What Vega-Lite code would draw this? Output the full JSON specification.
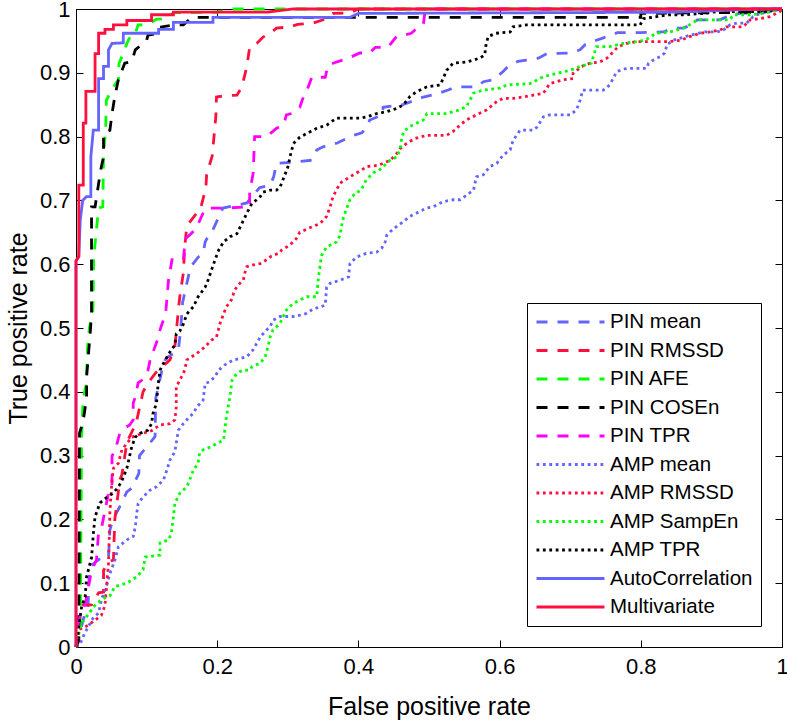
{
"$schema": "https://vega.github.io/schema/vega-lite/v6.json",
"width": 706, "height": 638,
"autosize": {"type": "none"},
"padding": {"left": 76, "top": 9, "right": 5, "bottom": 74},
"background": "white",
"config": {
  "view": {"stroke": "black", "strokeWidth": 1},
  "font": "Liberation Sans",
  "axis": {"tickSize": -7, "tickColor": "black", "domainColor": "black", "labelColor": "black", "labelFontSize": 22, "labelFont": "Liberation Sans", "titleFont": "Liberation Sans", "titleFontSize": 25, "titleFontWeight": "normal", "titleColor": "black", "grid": false, "labelFlush": false, "labelOverlap": false}
},
"datasets": {
"roc": [
{"s":"PIN mean","x":0,"y":0},{"s":"PIN mean","x":0.005,"y":0.02},{"s":"PIN mean","x":0.012,"y":0.05},{"s":"PIN mean","x":0.017,"y":0.06},{"s":"PIN mean","x":0.018,"y":0.10},{"s":"PIN mean","x":0.020,"y":0.125},{"s":"PIN mean","x":0.025,"y":0.131},{"s":"PIN mean","x":0.036,"y":0.14},{"s":"PIN mean","x":0.046,"y":0.14},{"s":"PIN mean","x":0.048,"y":0.183},{"s":"PIN mean","x":0.052,"y":0.199},{"s":"PIN mean","x":0.062,"y":0.22},{"s":"PIN mean","x":0.072,"y":0.243},{"s":"PIN mean","x":0.079,"y":0.249},{"s":"PIN mean","x":0.089,"y":0.272},{"s":"PIN mean","x":0.090,"y":0.30},{"s":"PIN mean","x":0.105,"y":0.32},{"s":"PIN mean","x":0.112,"y":0.33},{"s":"PIN mean","x":0.113,"y":0.39},{"s":"PIN mean","x":0.124,"y":0.445},{"s":"PIN mean","x":0.128,"y":0.453},{"s":"PIN mean","x":0.138,"y":0.46},{"s":"PIN mean","x":0.145,"y":0.465},{"s":"PIN mean","x":0.148,"y":0.495},{"s":"PIN mean","x":0.151,"y":0.54},{"s":"PIN mean","x":0.162,"y":0.595},{"s":"PIN mean","x":0.173,"y":0.611},{"s":"PIN mean","x":0.18,"y":0.617},{"s":"PIN mean","x":0.183,"y":0.635},{"s":"PIN mean","x":0.19,"y":0.65},{"s":"PIN mean","x":0.194,"y":0.654},{"s":"PIN mean","x":0.208,"y":0.688},{"s":"PIN mean","x":0.242,"y":0.696},{"s":"PIN mean","x":0.26,"y":0.72},{"s":"PIN mean","x":0.275,"y":0.724},{"s":"PIN mean","x":0.28,"y":0.737},{"s":"PIN mean","x":0.284,"y":0.758},{"s":"PIN mean","x":0.308,"y":0.76},{"s":"PIN mean","x":0.334,"y":0.763},{"s":"PIN mean","x":0.341,"y":0.779},{"s":"PIN mean","x":0.35,"y":0.784},{"s":"PIN mean","x":0.37,"y":0.79},{"s":"PIN mean","x":0.393,"y":0.802},{"s":"PIN mean","x":0.405,"y":0.806},{"s":"PIN mean","x":0.412,"y":0.815},{"s":"PIN mean","x":0.416,"y":0.826},{"s":"PIN mean","x":0.434,"y":0.834},{"s":"PIN mean","x":0.435,"y":0.846},{"s":"PIN mean","x":0.463,"y":0.85},{"s":"PIN mean","x":0.48,"y":0.857},{"s":"PIN mean","x":0.492,"y":0.862},{"s":"PIN mean","x":0.511,"y":0.867},{"s":"PIN mean","x":0.527,"y":0.873},{"s":"PIN mean","x":0.539,"y":0.878},{"s":"PIN mean","x":0.568,"y":0.878},{"s":"PIN mean","x":0.577,"y":0.886},{"s":"PIN mean","x":0.591,"y":0.889},{"s":"PIN mean","x":0.605,"y":0.902},{"s":"PIN mean","x":0.612,"y":0.91},{"s":"PIN mean","x":0.626,"y":0.918},{"s":"PIN mean","x":0.638,"y":0.92},{"s":"PIN mean","x":0.655,"y":0.923},{"s":"PIN mean","x":0.667,"y":0.93},{"s":"PIN mean","x":0.70,"y":0.931},{"s":"PIN mean","x":0.714,"y":0.936},{"s":"PIN mean","x":0.721,"y":0.944},{"s":"PIN mean","x":0.737,"y":0.951},{"s":"PIN mean","x":0.745,"y":0.954},{"s":"PIN mean","x":0.767,"y":0.963},{"s":"PIN mean","x":0.80,"y":0.963},{"s":"PIN mean","x":0.832,"y":0.964},{"s":"PIN mean","x":0.846,"y":0.97},{"s":"PIN mean","x":0.86,"y":0.97},{"s":"PIN mean","x":0.874,"y":0.976},{"s":"PIN mean","x":0.88,"y":0.983},{"s":"PIN mean","x":0.912,"y":0.983},{"s":"PIN mean","x":0.926,"y":0.99},{"s":"PIN mean","x":0.94,"y":0.993},{"s":"PIN mean","x":0.973,"y":0.995},{"s":"PIN mean","x":1,"y":1},
{"s":"PIN RMSSD","x":0,"y":0},{"s":"PIN RMSSD","x":0.002,"y":0.02},{"s":"PIN RMSSD","x":0.003,"y":0.05},{"s":"PIN RMSSD","x":0.010,"y":0.066},{"s":"PIN RMSSD","x":0.022,"y":0.066},{"s":"PIN RMSSD","x":0.032,"y":0.085},{"s":"PIN RMSSD","x":0.039,"y":0.086},{"s":"PIN RMSSD","x":0.039,"y":0.12},{"s":"PIN RMSSD","x":0.046,"y":0.134},{"s":"PIN RMSSD","x":0.053,"y":0.136},{"s":"PIN RMSSD","x":0.055,"y":0.20},{"s":"PIN RMSSD","x":0.058,"y":0.226},{"s":"PIN RMSSD","x":0.062,"y":0.262},{"s":"PIN RMSSD","x":0.065,"y":0.27},{"s":"PIN RMSSD","x":0.072,"y":0.32},{"s":"PIN RMSSD","x":0.076,"y":0.33},{"s":"PIN RMSSD","x":0.085,"y":0.35},{"s":"PIN RMSSD","x":0.095,"y":0.40},{"s":"PIN RMSSD","x":0.102,"y":0.414},{"s":"PIN RMSSD","x":0.113,"y":0.43},{"s":"PIN RMSSD","x":0.128,"y":0.445},{"s":"PIN RMSSD","x":0.133,"y":0.45},{"s":"PIN RMSSD","x":0.140,"y":0.47},{"s":"PIN RMSSD","x":0.145,"y":0.528},{"s":"PIN RMSSD","x":0.147,"y":0.549},{"s":"PIN RMSSD","x":0.152,"y":0.586},{"s":"PIN RMSSD","x":0.154,"y":0.627},{"s":"PIN RMSSD","x":0.157,"y":0.66},{"s":"PIN RMSSD","x":0.171,"y":0.68},{"s":"PIN RMSSD","x":0.176,"y":0.685},{"s":"PIN RMSSD","x":0.184,"y":0.72},{"s":"PIN RMSSD","x":0.185,"y":0.74},{"s":"PIN RMSSD","x":0.193,"y":0.77},{"s":"PIN RMSSD","x":0.195,"y":0.795},{"s":"PIN RMSSD","x":0.198,"y":0.83},{"s":"PIN RMSSD","x":0.199,"y":0.862},{"s":"PIN RMSSD","x":0.209,"y":0.864},{"s":"PIN RMSSD","x":0.228,"y":0.865},{"s":"PIN RMSSD","x":0.235,"y":0.878},{"s":"PIN RMSSD","x":0.242,"y":0.91},{"s":"PIN RMSSD","x":0.246,"y":0.94},{"s":"PIN RMSSD","x":0.256,"y":0.946},{"s":"PIN RMSSD","x":0.265,"y":0.956},{"s":"PIN RMSSD","x":0.275,"y":0.962},{"s":"PIN RMSSD","x":0.284,"y":0.970},{"s":"PIN RMSSD","x":0.303,"y":0.972},{"s":"PIN RMSSD","x":0.314,"y":0.976},{"s":"PIN RMSSD","x":0.336,"y":0.978},{"s":"PIN RMSSD","x":0.35,"y":0.983},{"s":"PIN RMSSD","x":0.364,"y":0.993},{"s":"PIN RMSSD","x":0.388,"y":0.994},{"s":"PIN RMSSD","x":0.40,"y":1},{"s":"PIN RMSSD","x":1,"y":1},
{"s":"PIN AFE","x":0,"y":0},{"s":"PIN AFE","x":0.006,"y":0.03},{"s":"PIN AFE","x":0.008,"y":0.33},{"s":"PIN AFE","x":0.010,"y":0.387},{"s":"PIN AFE","x":0.014,"y":0.41},{"s":"PIN AFE","x":0.015,"y":0.43},{"s":"PIN AFE","x":0.017,"y":0.48},{"s":"PIN AFE","x":0.019,"y":0.50},{"s":"PIN AFE","x":0.024,"y":0.528},{"s":"PIN AFE","x":0.025,"y":0.61},{"s":"PIN AFE","x":0.032,"y":0.688},{"s":"PIN AFE","x":0.038,"y":0.69},{"s":"PIN AFE","x":0.039,"y":0.774},{"s":"PIN AFE","x":0.042,"y":0.81},{"s":"PIN AFE","x":0.043,"y":0.857},{"s":"PIN AFE","x":0.053,"y":0.878},{"s":"PIN AFE","x":0.060,"y":0.889},{"s":"PIN AFE","x":0.061,"y":0.915},{"s":"PIN AFE","x":0.069,"y":0.936},{"s":"PIN AFE","x":0.072,"y":0.946},{"s":"PIN AFE","x":0.079,"y":0.962},{"s":"PIN AFE","x":0.084,"y":0.962},{"s":"PIN AFE","x":0.088,"y":0.975},{"s":"PIN AFE","x":0.100,"y":0.975},{"s":"PIN AFE","x":0.114,"y":0.984},{"s":"PIN AFE","x":0.124,"y":0.984},{"s":"PIN AFE","x":0.138,"y":0.994},{"s":"PIN AFE","x":0.2,"y":0.995},{"s":"PIN AFE","x":0.22,"y":1},{"s":"PIN AFE","x":1,"y":1},
{"s":"PIN COSEn","x":0,"y":0},{"s":"PIN COSEn","x":0.004,"y":0.01},{"s":"PIN COSEn","x":0.005,"y":0.335},{"s":"PIN COSEn","x":0.010,"y":0.353},{"s":"PIN COSEn","x":0.015,"y":0.39},{"s":"PIN COSEn","x":0.015,"y":0.423},{"s":"PIN COSEn","x":0.017,"y":0.45},{"s":"PIN COSEn","x":0.020,"y":0.49},{"s":"PIN COSEn","x":0.022,"y":0.523},{"s":"PIN COSEn","x":0.022,"y":0.690},{"s":"PIN COSEn","x":0.027,"y":0.690},{"s":"PIN COSEn","x":0.035,"y":0.748},{"s":"PIN COSEn","x":0.039,"y":0.768},{"s":"PIN COSEn","x":0.039,"y":0.805},{"s":"PIN COSEn","x":0.048,"y":0.810},{"s":"PIN COSEn","x":0.051,"y":0.836},{"s":"PIN COSEn","x":0.055,"y":0.863},{"s":"PIN COSEn","x":0.060,"y":0.889},{"s":"PIN COSEn","x":0.069,"y":0.915},{"s":"PIN COSEn","x":0.079,"y":0.918},{"s":"PIN COSEn","x":0.084,"y":0.936},{"s":"PIN COSEn","x":0.100,"y":0.951},{"s":"PIN COSEn","x":0.102,"y":0.959},{"s":"PIN COSEn","x":0.119,"y":0.962},{"s":"PIN COSEn","x":0.121,"y":0.972},{"s":"PIN COSEn","x":0.138,"y":0.975},{"s":"PIN COSEn","x":0.152,"y":0.975},{"s":"PIN COSEn","x":0.164,"y":0.987},{"s":"PIN COSEn","x":0.80,"y":0.987},{"s":"PIN COSEn","x":0.80,"y":0.993},{"s":"PIN COSEn","x":0.97,"y":0.995},{"s":"PIN COSEn","x":1,"y":1},
{"s":"PIN TPR","x":0,"y":0},{"s":"PIN TPR","x":0.002,"y":0.03},{"s":"PIN TPR","x":0.008,"y":0.06},{"s":"PIN TPR","x":0.013,"y":0.066},{"s":"PIN TPR","x":0.022,"y":0.12},{"s":"PIN TPR","x":0.029,"y":0.136},{"s":"PIN TPR","x":0.032,"y":0.18},{"s":"PIN TPR","x":0.036,"y":0.186},{"s":"PIN TPR","x":0.046,"y":0.241},{"s":"PIN TPR","x":0.051,"y":0.25},{"s":"PIN TPR","x":0.051,"y":0.30},{"s":"PIN TPR","x":0.055,"y":0.306},{"s":"PIN TPR","x":0.062,"y":0.335},{"s":"PIN TPR","x":0.065,"y":0.34},{"s":"PIN TPR","x":0.076,"y":0.348},{"s":"PIN TPR","x":0.081,"y":0.356},{"s":"PIN TPR","x":0.081,"y":0.382},{"s":"PIN TPR","x":0.084,"y":0.392},{"s":"PIN TPR","x":0.088,"y":0.414},{"s":"PIN TPR","x":0.093,"y":0.418},{"s":"PIN TPR","x":0.102,"y":0.434},{"s":"PIN TPR","x":0.105,"y":0.45},{"s":"PIN TPR","x":0.117,"y":0.486},{"s":"PIN TPR","x":0.119,"y":0.497},{"s":"PIN TPR","x":0.127,"y":0.523},{"s":"PIN TPR","x":0.131,"y":0.575},{"s":"PIN TPR","x":0.136,"y":0.607},{"s":"PIN TPR","x":0.152,"y":0.607},{"s":"PIN TPR","x":0.155,"y":0.64},{"s":"PIN TPR","x":0.164,"y":0.649},{"s":"PIN TPR","x":0.171,"y":0.658},{"s":"PIN TPR","x":0.180,"y":0.68},{"s":"PIN TPR","x":0.185,"y":0.688},{"s":"PIN TPR","x":0.213,"y":0.688},{"s":"PIN TPR","x":0.246,"y":0.69},{"s":"PIN TPR","x":0.246,"y":0.712},{"s":"PIN TPR","x":0.251,"y":0.743},{"s":"PIN TPR","x":0.253,"y":0.80},{"s":"PIN TPR","x":0.27,"y":0.80},{"s":"PIN TPR","x":0.284,"y":0.813},{"s":"PIN TPR","x":0.294,"y":0.818},{"s":"PIN TPR","x":0.298,"y":0.834},{"s":"PIN TPR","x":0.308,"y":0.837},{"s":"PIN TPR","x":0.317,"y":0.846},{"s":"PIN TPR","x":0.322,"y":0.862},{"s":"PIN TPR","x":0.329,"y":0.878},{"s":"PIN TPR","x":0.334,"y":0.893},{"s":"PIN TPR","x":0.353,"y":0.893},{"s":"PIN TPR","x":0.357,"y":0.912},{"s":"PIN TPR","x":0.364,"y":0.915},{"s":"PIN TPR","x":0.378,"y":0.92},{"s":"PIN TPR","x":0.39,"y":0.925},{"s":"PIN TPR","x":0.402,"y":0.931},{"s":"PIN TPR","x":0.416,"y":0.931},{"s":"PIN TPR","x":0.424,"y":0.94},{"s":"PIN TPR","x":0.442,"y":0.94},{"s":"PIN TPR","x":0.454,"y":0.957},{"s":"PIN TPR","x":0.459,"y":0.957},{"s":"PIN TPR","x":0.475,"y":0.962},{"s":"PIN TPR","x":0.48,"y":0.967},{"s":"PIN TPR","x":0.492,"y":0.976},{"s":"PIN TPR","x":0.494,"y":0.993},{"s":"PIN TPR","x":0.50,"y":1},{"s":"PIN TPR","x":1,"y":1},
{"s":"AMP mean","x":0,"y":0},{"s":"AMP mean","x":0.006,"y":0.005},{"s":"AMP mean","x":0.010,"y":0.016},{"s":"AMP mean","x":0.015,"y":0.027},{"s":"AMP mean","x":0.020,"y":0.037},{"s":"AMP mean","x":0.025,"y":0.047},{"s":"AMP mean","x":0.032,"y":0.053},{"s":"AMP mean","x":0.036,"y":0.074},{"s":"AMP mean","x":0.043,"y":0.095},{"s":"AMP mean","x":0.048,"y":0.115},{"s":"AMP mean","x":0.055,"y":0.136},{"s":"AMP mean","x":0.060,"y":0.157},{"s":"AMP mean","x":0.072,"y":0.168},{"s":"AMP mean","x":0.081,"y":0.173},{"s":"AMP mean","x":0.084,"y":0.188},{"s":"AMP mean","x":0.086,"y":0.209},{"s":"AMP mean","x":0.088,"y":0.225},{"s":"AMP mean","x":0.095,"y":0.235},{"s":"AMP mean","x":0.105,"y":0.246},{"s":"AMP mean","x":0.114,"y":0.251},{"s":"AMP mean","x":0.124,"y":0.262},{"s":"AMP mean","x":0.128,"y":0.275},{"s":"AMP mean","x":0.133,"y":0.293},{"s":"AMP mean","x":0.140,"y":0.306},{"s":"AMP mean","x":0.145,"y":0.340},{"s":"AMP mean","x":0.152,"y":0.350},{"s":"AMP mean","x":0.161,"y":0.361},{"s":"AMP mean","x":0.166,"y":0.366},{"s":"AMP mean","x":0.171,"y":0.376},{"s":"AMP mean","x":0.180,"y":0.387},{"s":"AMP mean","x":0.183,"y":0.413},{"s":"AMP mean","x":0.190,"y":0.416},{"s":"AMP mean","x":0.197,"y":0.424},{"s":"AMP mean","x":0.202,"y":0.434},{"s":"AMP mean","x":0.213,"y":0.444},{"s":"AMP mean","x":0.223,"y":0.450},{"s":"AMP mean","x":0.232,"y":0.452},{"s":"AMP mean","x":0.242,"y":0.455},{"s":"AMP mean","x":0.251,"y":0.466},{"s":"AMP mean","x":0.256,"y":0.476},{"s":"AMP mean","x":0.261,"y":0.486},{"s":"AMP mean","x":0.270,"y":0.497},{"s":"AMP mean","x":0.275,"y":0.502},{"s":"AMP mean","x":0.279,"y":0.512},{"s":"AMP mean","x":0.289,"y":0.518},{"s":"AMP mean","x":0.308,"y":0.518},{"s":"AMP mean","x":0.317,"y":0.520},{"s":"AMP mean","x":0.327,"y":0.523},{"s":"AMP mean","x":0.336,"y":0.530},{"s":"AMP mean","x":0.346,"y":0.533},{"s":"AMP mean","x":0.353,"y":0.536},{"s":"AMP mean","x":0.355,"y":0.564},{"s":"AMP mean","x":0.360,"y":0.570},{"s":"AMP mean","x":0.374,"y":0.575},{"s":"AMP mean","x":0.386,"y":0.580},{"s":"AMP mean","x":0.388,"y":0.601},{"s":"AMP mean","x":0.397,"y":0.611},{"s":"AMP mean","x":0.411,"y":0.617},{"s":"AMP mean","x":0.426,"y":0.619},{"s":"AMP mean","x":0.433,"y":0.625},{"s":"AMP mean","x":0.438,"y":0.635},{"s":"AMP mean","x":0.440,"y":0.645},{"s":"AMP mean","x":0.445,"y":0.651},{"s":"AMP mean","x":0.454,"y":0.659},{"s":"AMP mean","x":0.464,"y":0.667},{"s":"AMP mean","x":0.473,"y":0.675},{"s":"AMP mean","x":0.482,"y":0.680},{"s":"AMP mean","x":0.497,"y":0.688},{"s":"AMP mean","x":0.506,"y":0.690},{"s":"AMP mean","x":0.520,"y":0.698},{"s":"AMP mean","x":0.534,"y":0.701},{"s":"AMP mean","x":0.544,"y":0.701},{"s":"AMP mean","x":0.553,"y":0.708},{"s":"AMP mean","x":0.563,"y":0.716},{"s":"AMP mean","x":0.567,"y":0.737},{"s":"AMP mean","x":0.577,"y":0.740},{"s":"AMP mean","x":0.586,"y":0.753},{"s":"AMP mean","x":0.596,"y":0.758},{"s":"AMP mean","x":0.605,"y":0.771},{"s":"AMP mean","x":0.615,"y":0.779},{"s":"AMP mean","x":0.619,"y":0.794},{"s":"AMP mean","x":0.629,"y":0.810},{"s":"AMP mean","x":0.648,"y":0.810},{"s":"AMP mean","x":0.653,"y":0.815},{"s":"AMP mean","x":0.662,"y":0.831},{"s":"AMP mean","x":0.671,"y":0.834},{"s":"AMP mean","x":0.700,"y":0.834},{"s":"AMP mean","x":0.709,"y":0.842},{"s":"AMP mean","x":0.714,"y":0.857},{"s":"AMP mean","x":0.718,"y":0.873},{"s":"AMP mean","x":0.747,"y":0.873},{"s":"AMP mean","x":0.756,"y":0.881},{"s":"AMP mean","x":0.766,"y":0.902},{"s":"AMP mean","x":0.780,"y":0.907},{"s":"AMP mean","x":0.808,"y":0.907},{"s":"AMP mean","x":0.811,"y":0.915},{"s":"AMP mean","x":0.818,"y":0.920},{"s":"AMP mean","x":0.827,"y":0.925},{"s":"AMP mean","x":0.834,"y":0.931},{"s":"AMP mean","x":0.837,"y":0.944},{"s":"AMP mean","x":0.846,"y":0.951},{"s":"AMP mean","x":0.870,"y":0.959},{"s":"AMP mean","x":0.889,"y":0.964},{"s":"AMP mean","x":0.908,"y":0.964},{"s":"AMP mean","x":0.917,"y":0.967},{"s":"AMP mean","x":0.926,"y":0.975},{"s":"AMP mean","x":0.936,"y":0.978},{"s":"AMP mean","x":0.950,"y":0.978},{"s":"AMP mean","x":0.959,"y":0.988},{"s":"AMP mean","x":0.969,"y":0.993},{"s":"AMP mean","x":0.983,"y":0.996},{"s":"AMP mean","x":1,"y":1},
{"s":"AMP RMSSD","x":0,"y":0},{"s":"AMP RMSSD","x":0.003,"y":0.006},{"s":"AMP RMSSD","x":0.003,"y":0.027},{"s":"AMP RMSSD","x":0.010,"y":0.030},{"s":"AMP RMSSD","x":0.017,"y":0.034},{"s":"AMP RMSSD","x":0.027,"y":0.042},{"s":"AMP RMSSD","x":0.036,"y":0.050},{"s":"AMP RMSSD","x":0.041,"y":0.065},{"s":"AMP RMSSD","x":0.043,"y":0.09},{"s":"AMP RMSSD","x":0.046,"y":0.13},{"s":"AMP RMSSD","x":0.047,"y":0.168},{"s":"AMP RMSSD","x":0.048,"y":0.212},{"s":"AMP RMSSD","x":0.051,"y":0.262},{"s":"AMP RMSSD","x":0.053,"y":0.28},{"s":"AMP RMSSD","x":0.060,"y":0.288},{"s":"AMP RMSSD","x":0.065,"y":0.309},{"s":"AMP RMSSD","x":0.072,"y":0.319},{"s":"AMP RMSSD","x":0.079,"y":0.329},{"s":"AMP RMSSD","x":0.095,"y":0.335},{"s":"AMP RMSSD","x":0.107,"y":0.339},{"s":"AMP RMSSD","x":0.119,"y":0.348},{"s":"AMP RMSSD","x":0.133,"y":0.350},{"s":"AMP RMSSD","x":0.140,"y":0.356},{"s":"AMP RMSSD","x":0.142,"y":0.376},{"s":"AMP RMSSD","x":0.142,"y":0.408},{"s":"AMP RMSSD","x":0.147,"y":0.418},{"s":"AMP RMSSD","x":0.154,"y":0.434},{"s":"AMP RMSSD","x":0.157,"y":0.450},{"s":"AMP RMSSD","x":0.164,"y":0.455},{"s":"AMP RMSSD","x":0.171,"y":0.460},{"s":"AMP RMSSD","x":0.180,"y":0.468},{"s":"AMP RMSSD","x":0.192,"y":0.481},{"s":"AMP RMSSD","x":0.199,"y":0.486},{"s":"AMP RMSSD","x":0.204,"y":0.507},{"s":"AMP RMSSD","x":0.209,"y":0.522},{"s":"AMP RMSSD","x":0.213,"y":0.533},{"s":"AMP RMSSD","x":0.220,"y":0.544},{"s":"AMP RMSSD","x":0.225,"y":0.560},{"s":"AMP RMSSD","x":0.232,"y":0.570},{"s":"AMP RMSSD","x":0.237,"y":0.575},{"s":"AMP RMSSD","x":0.239,"y":0.586},{"s":"AMP RMSSD","x":0.242,"y":0.596},{"s":"AMP RMSSD","x":0.251,"y":0.599},{"s":"AMP RMSSD","x":0.261,"y":0.601},{"s":"AMP RMSSD","x":0.270,"y":0.607},{"s":"AMP RMSSD","x":0.277,"y":0.613},{"s":"AMP RMSSD","x":0.289,"y":0.618},{"s":"AMP RMSSD","x":0.291,"y":0.622},{"s":"AMP RMSSD","x":0.303,"y":0.630},{"s":"AMP RMSSD","x":0.312,"y":0.640},{"s":"AMP RMSSD","x":0.317,"y":0.650},{"s":"AMP RMSSD","x":0.331,"y":0.657},{"s":"AMP RMSSD","x":0.346,"y":0.664},{"s":"AMP RMSSD","x":0.355,"y":0.675},{"s":"AMP RMSSD","x":0.360,"y":0.690},{"s":"AMP RMSSD","x":0.364,"y":0.706},{"s":"AMP RMSSD","x":0.374,"y":0.727},{"s":"AMP RMSSD","x":0.388,"y":0.737},{"s":"AMP RMSSD","x":0.405,"y":0.748},{"s":"AMP RMSSD","x":0.412,"y":0.753},{"s":"AMP RMSSD","x":0.428,"y":0.755},{"s":"AMP RMSSD","x":0.435,"y":0.758},{"s":"AMP RMSSD","x":0.445,"y":0.763},{"s":"AMP RMSSD","x":0.454,"y":0.773},{"s":"AMP RMSSD","x":0.459,"y":0.781},{"s":"AMP RMSSD","x":0.468,"y":0.789},{"s":"AMP RMSSD","x":0.480,"y":0.797},{"s":"AMP RMSSD","x":0.497,"y":0.802},{"s":"AMP RMSSD","x":0.525,"y":0.802},{"s":"AMP RMSSD","x":0.534,"y":0.808},{"s":"AMP RMSSD","x":0.544,"y":0.818},{"s":"AMP RMSSD","x":0.553,"y":0.826},{"s":"AMP RMSSD","x":0.567,"y":0.834},{"s":"AMP RMSSD","x":0.582,"y":0.842},{"s":"AMP RMSSD","x":0.596,"y":0.855},{"s":"AMP RMSSD","x":0.605,"y":0.860},{"s":"AMP RMSSD","x":0.619,"y":0.860},{"s":"AMP RMSSD","x":0.633,"y":0.862},{"s":"AMP RMSSD","x":0.643,"y":0.864},{"s":"AMP RMSSD","x":0.662,"y":0.868},{"s":"AMP RMSSD","x":0.671,"y":0.883},{"s":"AMP RMSSD","x":0.690,"y":0.889},{"s":"AMP RMSSD","x":0.704,"y":0.891},{"s":"AMP RMSSD","x":0.704,"y":0.899},{"s":"AMP RMSSD","x":0.716,"y":0.910},{"s":"AMP RMSSD","x":0.728,"y":0.915},{"s":"AMP RMSSD","x":0.742,"y":0.917},{"s":"AMP RMSSD","x":0.752,"y":0.923},{"s":"AMP RMSSD","x":0.761,"y":0.933},{"s":"AMP RMSSD","x":0.768,"y":0.941},{"s":"AMP RMSSD","x":0.780,"y":0.946},{"s":"AMP RMSSD","x":0.794,"y":0.949},{"s":"AMP RMSSD","x":0.841,"y":0.949},{"s":"AMP RMSSD","x":0.856,"y":0.951},{"s":"AMP RMSSD","x":0.870,"y":0.957},{"s":"AMP RMSSD","x":0.884,"y":0.962},{"s":"AMP RMSSD","x":0.898,"y":0.964},{"s":"AMP RMSSD","x":0.912,"y":0.967},{"s":"AMP RMSSD","x":0.921,"y":0.972},{"s":"AMP RMSSD","x":0.945,"y":0.972},{"s":"AMP RMSSD","x":0.955,"y":0.983},{"s":"AMP RMSSD","x":0.969,"y":0.985},{"s":"AMP RMSSD","x":0.983,"y":0.988},{"s":"AMP RMSSD","x":0.997,"y":0.996},{"s":"AMP RMSSD","x":1,"y":1},
{"s":"AMP SampEn","x":0,"y":0},{"s":"AMP SampEn","x":0.003,"y":0.016},{"s":"AMP SampEn","x":0.006,"y":0.032},{"s":"AMP SampEn","x":0.010,"y":0.040},{"s":"AMP SampEn","x":0.020,"y":0.055},{"s":"AMP SampEn","x":0.025,"y":0.063},{"s":"AMP SampEn","x":0.029,"y":0.068},{"s":"AMP SampEn","x":0.039,"y":0.076},{"s":"AMP SampEn","x":0.048,"y":0.080},{"s":"AMP SampEn","x":0.055,"y":0.095},{"s":"AMP SampEn","x":0.072,"y":0.100},{"s":"AMP SampEn","x":0.086,"y":0.110},{"s":"AMP SampEn","x":0.095,"y":0.121},{"s":"AMP SampEn","x":0.098,"y":0.141},{"s":"AMP SampEn","x":0.119,"y":0.144},{"s":"AMP SampEn","x":0.119,"y":0.163},{"s":"AMP SampEn","x":0.131,"y":0.168},{"s":"AMP SampEn","x":0.135,"y":0.178},{"s":"AMP SampEn","x":0.138,"y":0.204},{"s":"AMP SampEn","x":0.140,"y":0.225},{"s":"AMP SampEn","x":0.147,"y":0.241},{"s":"AMP SampEn","x":0.157,"y":0.251},{"s":"AMP SampEn","x":0.161,"y":0.262},{"s":"AMP SampEn","x":0.166,"y":0.277},{"s":"AMP SampEn","x":0.173,"y":0.288},{"s":"AMP SampEn","x":0.175,"y":0.304},{"s":"AMP SampEn","x":0.180,"y":0.309},{"s":"AMP SampEn","x":0.192,"y":0.314},{"s":"AMP SampEn","x":0.199,"y":0.319},{"s":"AMP SampEn","x":0.209,"y":0.324},{"s":"AMP SampEn","x":0.213,"y":0.361},{"s":"AMP SampEn","x":0.218,"y":0.392},{"s":"AMP SampEn","x":0.221,"y":0.418},{"s":"AMP SampEn","x":0.228,"y":0.429},{"s":"AMP SampEn","x":0.237,"y":0.434},{"s":"AMP SampEn","x":0.246,"y":0.434},{"s":"AMP SampEn","x":0.249,"y":0.439},{"s":"AMP SampEn","x":0.261,"y":0.445},{"s":"AMP SampEn","x":0.268,"y":0.455},{"s":"AMP SampEn","x":0.272,"y":0.471},{"s":"AMP SampEn","x":0.275,"y":0.486},{"s":"AMP SampEn","x":0.279,"y":0.497},{"s":"AMP SampEn","x":0.284,"y":0.502},{"s":"AMP SampEn","x":0.289,"y":0.507},{"s":"AMP SampEn","x":0.293,"y":0.517},{"s":"AMP SampEn","x":0.298,"y":0.528},{"s":"AMP SampEn","x":0.307,"y":0.538},{"s":"AMP SampEn","x":0.317,"y":0.544},{"s":"AMP SampEn","x":0.327,"y":0.549},{"s":"AMP SampEn","x":0.341,"y":0.549},{"s":"AMP SampEn","x":0.343,"y":0.575},{"s":"AMP SampEn","x":0.346,"y":0.601},{"s":"AMP SampEn","x":0.348,"y":0.614},{"s":"AMP SampEn","x":0.355,"y":0.627},{"s":"AMP SampEn","x":0.369,"y":0.635},{"s":"AMP SampEn","x":0.374,"y":0.645},{"s":"AMP SampEn","x":0.376,"y":0.659},{"s":"AMP SampEn","x":0.379,"y":0.674},{"s":"AMP SampEn","x":0.388,"y":0.701},{"s":"AMP SampEn","x":0.395,"y":0.711},{"s":"AMP SampEn","x":0.404,"y":0.716},{"s":"AMP SampEn","x":0.411,"y":0.732},{"s":"AMP SampEn","x":0.421,"y":0.743},{"s":"AMP SampEn","x":0.430,"y":0.748},{"s":"AMP SampEn","x":0.435,"y":0.753},{"s":"AMP SampEn","x":0.445,"y":0.763},{"s":"AMP SampEn","x":0.454,"y":0.768},{"s":"AMP SampEn","x":0.459,"y":0.779},{"s":"AMP SampEn","x":0.461,"y":0.795},{"s":"AMP SampEn","x":0.464,"y":0.808},{"s":"AMP SampEn","x":0.473,"y":0.816},{"s":"AMP SampEn","x":0.482,"y":0.821},{"s":"AMP SampEn","x":0.492,"y":0.826},{"s":"AMP SampEn","x":0.497,"y":0.836},{"s":"AMP SampEn","x":0.525,"y":0.836},{"s":"AMP SampEn","x":0.544,"y":0.842},{"s":"AMP SampEn","x":0.553,"y":0.847},{"s":"AMP SampEn","x":0.558,"y":0.857},{"s":"AMP SampEn","x":0.563,"y":0.868},{"s":"AMP SampEn","x":0.577,"y":0.873},{"s":"AMP SampEn","x":0.601,"y":0.876},{"s":"AMP SampEn","x":0.610,"y":0.881},{"s":"AMP SampEn","x":0.643,"y":0.883},{"s":"AMP SampEn","x":0.662,"y":0.894},{"s":"AMP SampEn","x":0.681,"y":0.899},{"s":"AMP SampEn","x":0.700,"y":0.904},{"s":"AMP SampEn","x":0.714,"y":0.910},{"s":"AMP SampEn","x":0.730,"y":0.915},{"s":"AMP SampEn","x":0.737,"y":0.941},{"s":"AMP SampEn","x":0.756,"y":0.941},{"s":"AMP SampEn","x":0.775,"y":0.946},{"s":"AMP SampEn","x":0.794,"y":0.949},{"s":"AMP SampEn","x":0.806,"y":0.951},{"s":"AMP SampEn","x":0.822,"y":0.962},{"s":"AMP SampEn","x":0.841,"y":0.964},{"s":"AMP SampEn","x":0.860,"y":0.970},{"s":"AMP SampEn","x":0.874,"y":0.978},{"s":"AMP SampEn","x":0.879,"y":0.983},{"s":"AMP SampEn","x":0.926,"y":0.983},{"s":"AMP SampEn","x":0.931,"y":0.991},{"s":"AMP SampEn","x":0.955,"y":0.991},{"s":"AMP SampEn","x":0.973,"y":0.993},{"s":"AMP SampEn","x":0.992,"y":0.998},{"s":"AMP SampEn","x":1,"y":1},
{"s":"AMP TPR","x":0,"y":0},{"s":"AMP TPR","x":0.003,"y":0.006},{"s":"AMP TPR","x":0.003,"y":0.027},{"s":"AMP TPR","x":0.008,"y":0.063},{"s":"AMP TPR","x":0.013,"y":0.079},{"s":"AMP TPR","x":0.015,"y":0.11},{"s":"AMP TPR","x":0.022,"y":0.14},{"s":"AMP TPR","x":0.025,"y":0.183},{"s":"AMP TPR","x":0.027,"y":0.204},{"s":"AMP TPR","x":0.034,"y":0.226},{"s":"AMP TPR","x":0.043,"y":0.234},{"s":"AMP TPR","x":0.051,"y":0.24},{"s":"AMP TPR","x":0.058,"y":0.248},{"s":"AMP TPR","x":0.064,"y":0.258},{"s":"AMP TPR","x":0.072,"y":0.28},{"s":"AMP TPR","x":0.079,"y":0.314},{"s":"AMP TPR","x":0.084,"y":0.329},{"s":"AMP TPR","x":0.091,"y":0.335},{"s":"AMP TPR","x":0.102,"y":0.340},{"s":"AMP TPR","x":0.107,"y":0.350},{"s":"AMP TPR","x":0.109,"y":0.366},{"s":"AMP TPR","x":0.114,"y":0.382},{"s":"AMP TPR","x":0.116,"y":0.408},{"s":"AMP TPR","x":0.119,"y":0.434},{"s":"AMP TPR","x":0.124,"y":0.445},{"s":"AMP TPR","x":0.135,"y":0.466},{"s":"AMP TPR","x":0.140,"y":0.473},{"s":"AMP TPR","x":0.142,"y":0.491},{"s":"AMP TPR","x":0.147,"y":0.495},{"s":"AMP TPR","x":0.152,"y":0.506},{"s":"AMP TPR","x":0.157,"y":0.522},{"s":"AMP TPR","x":0.161,"y":0.527},{"s":"AMP TPR","x":0.166,"y":0.533},{"s":"AMP TPR","x":0.173,"y":0.549},{"s":"AMP TPR","x":0.183,"y":0.564},{"s":"AMP TPR","x":0.187,"y":0.575},{"s":"AMP TPR","x":0.192,"y":0.591},{"s":"AMP TPR","x":0.197,"y":0.607},{"s":"AMP TPR","x":0.202,"y":0.622},{"s":"AMP TPR","x":0.209,"y":0.635},{"s":"AMP TPR","x":0.218,"y":0.643},{"s":"AMP TPR","x":0.228,"y":0.648},{"s":"AMP TPR","x":0.235,"y":0.664},{"s":"AMP TPR","x":0.242,"y":0.680},{"s":"AMP TPR","x":0.249,"y":0.695},{"s":"AMP TPR","x":0.256,"y":0.701},{"s":"AMP TPR","x":0.261,"y":0.706},{"s":"AMP TPR","x":0.265,"y":0.713},{"s":"AMP TPR","x":0.275,"y":0.716},{"s":"AMP TPR","x":0.284,"y":0.716},{"s":"AMP TPR","x":0.289,"y":0.721},{"s":"AMP TPR","x":0.293,"y":0.732},{"s":"AMP TPR","x":0.300,"y":0.752},{"s":"AMP TPR","x":0.303,"y":0.768},{"s":"AMP TPR","x":0.308,"y":0.789},{"s":"AMP TPR","x":0.317,"y":0.799},{"s":"AMP TPR","x":0.327,"y":0.805},{"s":"AMP TPR","x":0.341,"y":0.813},{"s":"AMP TPR","x":0.355,"y":0.818},{"s":"AMP TPR","x":0.369,"y":0.829},{"s":"AMP TPR","x":0.402,"y":0.829},{"s":"AMP TPR","x":0.412,"y":0.831},{"s":"AMP TPR","x":0.426,"y":0.836},{"s":"AMP TPR","x":0.440,"y":0.839},{"s":"AMP TPR","x":0.454,"y":0.844},{"s":"AMP TPR","x":0.464,"y":0.850},{"s":"AMP TPR","x":0.473,"y":0.863},{"s":"AMP TPR","x":0.482,"y":0.870},{"s":"AMP TPR","x":0.497,"y":0.878},{"s":"AMP TPR","x":0.516,"y":0.881},{"s":"AMP TPR","x":0.520,"y":0.891},{"s":"AMP TPR","x":0.525,"y":0.904},{"s":"AMP TPR","x":0.534,"y":0.915},{"s":"AMP TPR","x":0.553,"y":0.917},{"s":"AMP TPR","x":0.572,"y":0.923},{"s":"AMP TPR","x":0.579,"y":0.928},{"s":"AMP TPR","x":0.581,"y":0.946},{"s":"AMP TPR","x":0.584,"y":0.957},{"s":"AMP TPR","x":0.595,"y":0.962},{"s":"AMP TPR","x":0.615,"y":0.964},{"s":"AMP TPR","x":0.619,"y":0.972},{"s":"AMP TPR","x":0.638,"y":0.975},{"s":"AMP TPR","x":0.799,"y":0.975},{"s":"AMP TPR","x":0.804,"y":0.985},{"s":"AMP TPR","x":0.822,"y":0.988},{"s":"AMP TPR","x":0.841,"y":0.991},{"s":"AMP TPR","x":0.860,"y":0.991},{"s":"AMP TPR","x":0.889,"y":0.993},{"s":"AMP TPR","x":0.908,"y":0.996},{"s":"AMP TPR","x":0.973,"y":0.996},{"s":"AMP TPR","x":1,"y":1},
{"s":"AutoCorrelation","x":0,"y":0},{"s":"AutoCorrelation","x":0,"y":0.605},{"s":"AutoCorrelation","x":0.004,"y":0.612},{"s":"AutoCorrelation","x":0.006,"y":0.669},{"s":"AutoCorrelation","x":0.0095,"y":0.70},{"s":"AutoCorrelation","x":0.015,"y":0.706},{"s":"AutoCorrelation","x":0.021,"y":0.706},{"s":"AutoCorrelation","x":0.021,"y":0.768},{"s":"AutoCorrelation","x":0.0245,"y":0.81},{"s":"AutoCorrelation","x":0.032,"y":0.81},{"s":"AutoCorrelation","x":0.032,"y":0.891},{"s":"AutoCorrelation","x":0.039,"y":0.891},{"s":"AutoCorrelation","x":0.039,"y":0.91},{"s":"AutoCorrelation","x":0.046,"y":0.91},{"s":"AutoCorrelation","x":0.046,"y":0.936},{"s":"AutoCorrelation","x":0.051,"y":0.946},{"s":"AutoCorrelation","x":0.067,"y":0.947},{"s":"AutoCorrelation","x":0.067,"y":0.962},{"s":"AutoCorrelation","x":0.117,"y":0.962},{"s":"AutoCorrelation","x":0.117,"y":0.968},{"s":"AutoCorrelation","x":0.138,"y":0.968},{"s":"AutoCorrelation","x":0.138,"y":0.979},{"s":"AutoCorrelation","x":0.194,"y":0.979},{"s":"AutoCorrelation","x":0.194,"y":0.987},{"s":"AutoCorrelation","x":0.388,"y":0.987},{"s":"AutoCorrelation","x":0.40,"y":0.993},{"s":"AutoCorrelation","x":0.85,"y":0.995},{"s":"AutoCorrelation","x":0.97,"y":1},{"s":"AutoCorrelation","x":1,"y":1},
{"s":"Multivariate","x":0,"y":0},{"s":"Multivariate","x":0,"y":0.605},{"s":"Multivariate","x":0.004,"y":0.612},{"s":"Multivariate","x":0.004,"y":0.724},{"s":"Multivariate","x":0.0103,"y":0.724},{"s":"Multivariate","x":0.0103,"y":0.821},{"s":"Multivariate","x":0.014,"y":0.821},{"s":"Multivariate","x":0.014,"y":0.871},{"s":"Multivariate","x":0.027,"y":0.871},{"s":"Multivariate","x":0.027,"y":0.93},{"s":"Multivariate","x":0.032,"y":0.93},{"s":"Multivariate","x":0.032,"y":0.962},{"s":"Multivariate","x":0.041,"y":0.962},{"s":"Multivariate","x":0.041,"y":0.968},{"s":"Multivariate","x":0.053,"y":0.968},{"s":"Multivariate","x":0.053,"y":0.975},{"s":"Multivariate","x":0.072,"y":0.975},{"s":"Multivariate","x":0.072,"y":0.982},{"s":"Multivariate","x":0.107,"y":0.982},{"s":"Multivariate","x":0.107,"y":0.991},{"s":"Multivariate","x":0.138,"y":0.991},{"s":"Multivariate","x":0.138,"y":0.995},{"s":"Multivariate","x":0.27,"y":0.995},{"s":"Multivariate","x":0.307,"y":1},{"s":"Multivariate","x":1,"y":1}
]
},
"layer": [
  {
    "data": {"name": "roc"},
    "mark": {"type": "line", "strokeWidth": 2.8, "strokeCap": "butt", "strokeJoin": "miter"},
    "encoding": {
      "x": {"field": "x", "type": "quantitative", "scale": {"domain": [0, 1], "nice": false, "zero": false},
            "axis": {"orient": "bottom", "values": [0, 0.2, 0.4, 0.6, 0.8, 1], "format": "~g", "title": "False positive rate", "labelPadding": 16, "titleX": 353, "titleY": 67, "titleBaseline": "alphabetic", "titleAlign": "center"}},
      "y": {"field": "y", "type": "quantitative", "scale": {"domain": [0, 1], "nice": false, "zero": false},
            "axis": {"orient": "left", "values": [0, 0.1, 0.2, 0.3, 0.4, 0.5, 0.6, 0.7, 0.8, 0.9, 1], "format": "~g", "title": "True positive rate", "labelPadding": 13, "titleX": -50, "titleY": 319, "titleAngle": -90, "titleBaseline": "alphabetic", "titleAlign": "center"}},
      "color": {"field": "s", "type": "nominal",
        "scale": {"domain": ["PIN mean", "PIN RMSSD", "PIN AFE", "PIN COSEn", "PIN TPR", "AMP mean", "AMP RMSSD", "AMP SampEn", "AMP TPR", "AutoCorrelation", "Multivariate"],
                  "range": ["#6464FF", "#FF0F3D", "#00FF00", "#000000", "#FF00FF", "#6464FF", "#FF0F3D", "#00FF00", "#000000", "#6464FF", "#FF0F3D"]},
        "legend": {"title": null, "orient": "none", "legendX": 451, "legendY": 294, "symbolType": "stroke", "symbolSize": 4624, "symbolStrokeWidth": 2.8, "clipHeight": 22, "rowPadding": 6.5, "labelFontSize": 20.5, "labelFont": "Liberation Sans", "labelColor": "black", "labelOffset": 4, "padding": 8, "strokeColor": "black", "fillColor": "white", "labelLimit": 300}},
      "strokeDash": {"field": "s", "type": "nominal",
        "scale": {"domain": ["PIN mean", "PIN RMSSD", "PIN AFE", "PIN COSEn", "PIN TPR", "AMP mean", "AMP RMSSD", "AMP SampEn", "AMP TPR", "AutoCorrelation", "Multivariate"],
                  "range": [[11, 10], [11, 10], [11, 10], [11, 10], [11, 10], [2.8, 3.6], [2.8, 3.6], [2.8, 3.6], [2.8, 3.6], [1, 0], [1, 0]]},
        "legend": {"title": null, "orient": "none", "legendX": 451, "legendY": 294, "symbolType": "stroke", "symbolSize": 4624, "symbolStrokeWidth": 2.8, "clipHeight": 22, "rowPadding": 6.5, "labelFontSize": 20.5, "labelFont": "Liberation Sans", "labelColor": "black", "labelOffset": 4, "padding": 8, "strokeColor": "black", "fillColor": "white", "labelLimit": 300}},
      "order": {"value": null}
    }
  },
  {
    "data": {"values": [{"x": 0, "y": 0}, {"x": 1, "y": 1}]},
    "mark": {"type": "point", "opacity": 0},
    "encoding": {
      "x": {"field": "x", "type": "quantitative", "axis": {"orient": "top", "labels": false, "title": null, "domain": false, "values": [0, 0.2, 0.4, 0.6, 0.8, 1]}},
      "y": {"field": "y", "type": "quantitative", "axis": {"orient": "right", "labels": false, "title": null, "domain": false, "values": [0, 0.1, 0.2, 0.3, 0.4, 0.5, 0.6, 0.7, 0.8, 0.9, 1]}}
    }
  }
],
"resolve": {"axis": {"x": "independent", "y": "independent"}}
}
